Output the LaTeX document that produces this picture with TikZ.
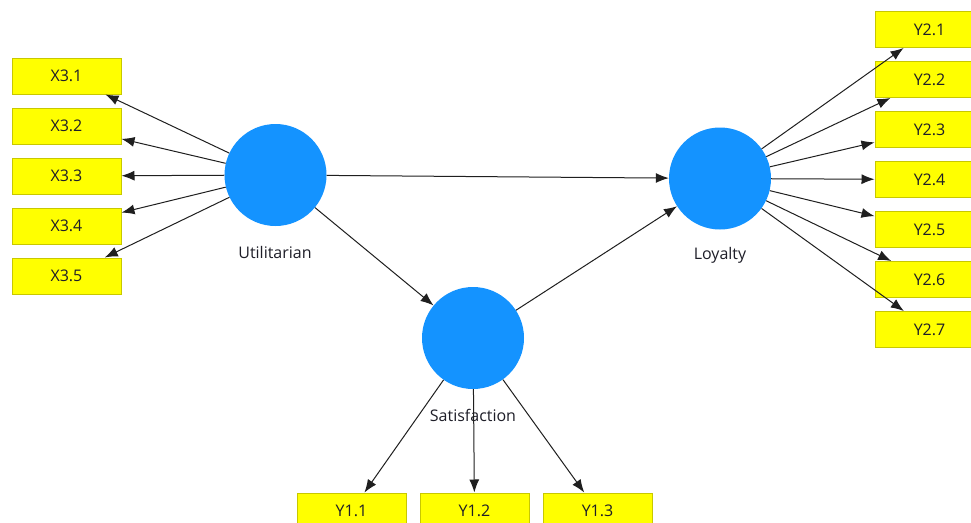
\documentclass[tikz,border=0pt]{standalone}
\usepackage{fontspec}
\setmainfont{Open Sans}
\usetikzlibrary{arrows.meta}
\definecolor{latent}{RGB}{20,147,255}
\definecolor{indfill}{RGB}{255,255,0}
\definecolor{inddraw}{RGB}{200,200,0}
\definecolor{lbl}{RGB}{30,30,40}
\tikzset{
  construct/.style={circle, fill=latent, minimum size=102pt, inner sep=0pt},
  indicator/.style={rectangle, fill=indfill, draw=inddraw, line width=1pt,
    minimum width=109pt, minimum height=36pt, inner sep=0pt,
    font=\fontsize{16}{19}\selectfont, text=lbl},
  cname/.style={font=\fontsize{16}{19}\selectfont, text=lbl, inner sep=0pt},
  path/.style={draw=black!88, line width=1pt, -{Latex[length=13pt,width=10pt]}}
}
\begin{document}
\begin{tikzpicture}[x=1pt,y=-1pt]
\useasboundingbox (0,0) rectangle (971,522);
\fill[white] (0,0) rectangle (971,522);

% latent constructs
\node[construct] (util) at (275.5,175) {};
\node[construct] (loy) at (720,178.5) {};
\node[construct] (sat) at (473,338) {};
\node[cname] (utilname) at (275,252) {Utilitarian};
\node[cname] (loyname) at (720,255) {Loyalty};
\node[cname] (satname) at (473,415) {Satisfaction};

% indicators of Utilitarian
\foreach \i in {1,...,5}
  \node[indicator] (x3\i) at (66.5,{26+50*\i}) {X3.\i};

% indicators of Loyalty
\foreach \i in {1,...,7}
  \node[indicator] (y2\i) at (929.5,{-20.5+50*\i}) {Y2.\i};

% indicators of Satisfaction
\node[indicator] (y11) at (351.5,511) {Y1.1};
\node[indicator] (y12) at (474.5,511) {Y1.2};
\node[indicator] (y13) at (597.5,511) {Y1.3};

% structural paths
\draw[path] (util) -- (loy);
\draw[path] (util) -- (sat);
\draw[path] (sat) -- (loy);

% measurement paths
\foreach \i in {1,...,5}
  \draw[path] (util) -- (x3\i);
\foreach \i in {1,...,7}
  \draw[path] (loy) -- (y2\i);
\foreach \i in {1,2,3}
  \draw[path] (sat) -- (y1\i);
\end{tikzpicture}
\end{document}
